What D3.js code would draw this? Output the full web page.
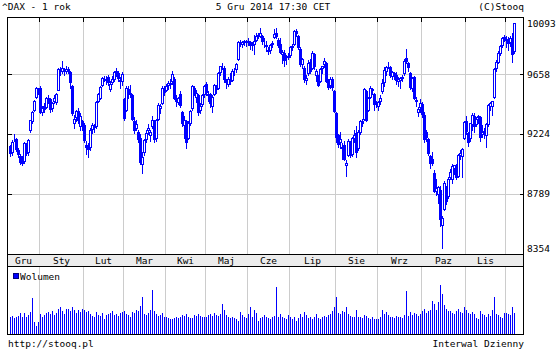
<!DOCTYPE html>
<html>
<head>
<meta charset="utf-8">
<script src="https://cdn.jsdelivr.net/npm/d3@7"></script>
<style>
  html, body { margin: 0; padding: 0; background: #fff; }
  svg { display: block; shape-rendering: crispEdges; }
  text { font-family: "DejaVu Sans Mono", monospace; font-size: 9.5px; fill: #000; }
</style>
</head>
<body>
<svg id="chart" width="560" height="350"></svg>
<script>
// --- 1. DATA ---
const monthLabels = ["Gru", "Sty", "Lut", "Mar", "Kwi", "Maj", "Cze", "Lip", "Sie", "Wrz", "Paz", "Lis", "Gru"];
// sessions per month in the window (Dec 2013 .. Dec 2014)
const monthDays = [15, 22, 20, 21, 20, 21, 21, 23, 21, 22, 22, 20, 5];
const priceTicks = [8354, 8789, 9224, 9658, 10093];

// [open, high, low, close]
const candles = [
  // gru 2013
  [9140,9150,9060,9085],[9090,9185,9070,9172],[9200,9230,9180,9201],[9195,9200,9100,9114],
  [9110,9125,9055,9077],[9060,9080,9000,9017],[9030,9060,8990,9006],[9020,9170,9010,9164],
  [9150,9160,9070,9085],[9090,9190,9070,9182],[9260,9340,9250,9336],[9330,9410,9320,9400],
  [9420,9495,9410,9489],[9520,9594,9510,9589],[9580,9590,9540,9552],
  // sty
  [9590,9600,9390,9400],[9400,9450,9380,9435],[9450,9470,9400,9428],[9440,9520,9430,9506],
  [9510,9530,9470,9497],[9500,9510,9400,9422],[9430,9480,9410,9473],[9490,9530,9470,9510],
  [9480,9550,9460,9540],[9570,9740,9570,9733],[9730,9750,9690,9717],[9720,9794,9700,9742],
  [9730,9745,9690,9715],[9720,9760,9700,9730],[9735,9750,9700,9720],[9710,9715,9590,9631],
  [9600,9610,9380,9392],[9320,9380,9280,9349],[9360,9420,9330,9406],[9410,9430,9320,9336],
  [9290,9390,9260,9374],[9330,9340,9260,9306],
  // lut
  [9300,9320,9170,9186],[9150,9180,9080,9128],[9140,9160,9050,9116],[9130,9280,9110,9265],
  [9270,9320,9240,9301],[9300,9310,9250,9285],[9290,9490,9280,9478],[9490,9550,9480,9540],
  [9510,9600,9500,9596],[9610,9670,9600,9663],[9660,9680,9640,9657],[9650,9680,9620,9660],
  [9670,9690,9610,9635],[9580,9640,9560,9618],[9630,9680,9620,9657],[9660,9720,9640,9709],
  [9720,9740,9680,9699],[9700,9720,9640,9661],[9650,9670,9590,9638],[9640,9710,9610,9692],
  // mar
  [9500,9510,9340,9358],[9420,9600,9410,9589],[9580,9600,9510,9542],[9550,9610,9520,9543],
  [9530,9540,9340,9351],[9330,9360,9240,9265],[9280,9340,9260,9307],[9250,9260,9170,9189],
  [9200,9230,9000,9017],[9000,9090,8930,9056],[9090,9190,9070,9181],[9190,9260,9170,9242],
  [9260,9310,9230,9277],[9220,9260,9180,9245],[9290,9370,9280,9343],[9330,9340,9170,9189],
  [9200,9350,9180,9338],[9350,9470,9340,9452],[9430,9460,9390,9450],[9470,9600,9460,9588],
  [9590,9600,9530,9556],
  // kwi
  [9570,9620,9560,9603],[9610,9640,9580,9623],[9620,9660,9590,9628],[9640,9720,9620,9695],
  [9660,9670,9500,9510],[9510,9530,9450,9490],[9480,9520,9460,9507],[9540,9560,9440,9455],
  [9400,9410,9290,9315],[9300,9370,9200,9339],[9330,9340,9120,9173],[9200,9330,9190,9317],
  [9320,9420,9300,9409],[9430,9610,9420,9600],[9590,9600,9530,9545],[9520,9570,9480,9549],
  [9530,9540,9380,9401],[9420,9470,9390,9446],[9460,9540,9450,9531],[9540,9610,9520,9603],
  // maj
  [9620,9630,9530,9556],[9540,9560,9490,9529],[9540,9550,9440,9467],[9450,9530,9400,9521],
  [9540,9620,9530,9607],[9600,9610,9550,9581],[9590,9710,9580,9703],[9710,9760,9690,9754],
  [9760,9780,9730,9755],[9740,9760,9630,9656],[9650,9660,9590,9630],[9620,9670,9600,9659],
  [9660,9700,9620,9639],[9650,9730,9640,9722],[9720,9740,9690,9721],[9730,9780,9710,9769],
  [9810,9950,9800,9940],[9945,9960,9910,9940],[9930,9950,9900,9939],[9940,9960,9920,9952],
  [9950,9960,9910,9943],
  // cze
  [9945,9970,9920,9950],[9940,9950,9890,9920],[9920,9940,9880,9926],[9930,10000,9850,9948],
  [9960,10010,9950,9987],[9995,10010,9970,9987],[9990,10050,9980,10008],[9990,10000,9930,9950],
  [9940,9970,9900,9939],[9920,9950,9870,9912],[9870,9900,9850,9883],[9880,9930,9860,9920],
  [9930,9950,9900,9937],[9980,10040,9970,10005],[10010,10050,9970,9987],[9960,9970,9900,9920],
  [9930,9970,9860,9868],[9850,9880,9780,9867],[9860,9880,9760,9805],[9820,9840,9770,9816],
  [9830,9860,9810,9833],
  // lip
  [9840,9910,9830,9902],[9910,9930,9880,9903],[9930,10033,9920,10029],[10030,10040,9990,10009],
  [9990,10000,9890,9906],[9890,9900,9760,9772],[9770,9820,9740,9808],[9740,9760,9630,9659],
  [9650,9690,9620,9666],[9700,9800,9690,9783],[9790,9810,9700,9719],[9740,9870,9730,9859],
  [9850,9860,9730,9753],[9690,9730,9640,9720],[9680,9690,9600,9612],[9640,9740,9630,9734],
  [9740,9760,9700,9753],[9770,9820,9750,9796],[9780,9790,9630,9644],[9640,9660,9580,9598],
  [9610,9670,9590,9653],[9660,9670,9570,9593],[9560,9570,9400,9407],
  // sie
  [9390,9400,9170,9210],[9220,9230,9130,9154],[9170,9250,9120,9189],[9120,9160,9040,9130],
  [9150,9180,9030,9038],[8990,9030,8903,9009],[9070,9190,9060,9180],[9170,9180,9050,9069],
  [9080,9210,9060,9199],[9200,9260,9170,9225],[9240,9290,9050,9092],[9120,9260,9110,9245],
  [9250,9340,9230,9334],[9330,9350,9290,9314],[9350,9590,9340,9580],[9560,9570,9330,9339],
  [9420,9520,9410,9510],[9520,9600,9510,9588],[9580,9590,9540,9569],[9540,9550,9420,9462],
  [9475,9490,9440,9470],
  // wrz
  [9450,9490,9420,9480],[9490,9530,9460,9507],[9560,9660,9550,9626],[9630,9750,9600,9724],
  [9720,9760,9690,9747],[9760,9790,9740,9758],[9750,9760,9670,9686],[9680,9720,9660,9710],
  [9700,9710,9660,9691],[9690,9710,9620,9651],[9640,9670,9600,9660],[9650,9670,9590,9661],
  [9670,9690,9640,9662],[9700,9810,9690,9799],[9820,9891,9780,9799],[9780,9790,9720,9749],
  [9700,9710,9580,9595],[9590,9670,9560,9661],[9670,9680,9500,9510],[9495,9520,9450,9490],
  [9400,9440,9370,9422],[9440,9500,9400,9474],
  // paz
  [9460,9480,9360,9382],[9380,9400,9170,9195],[9250,9260,9180,9209],[9190,9200,9070,9086],
  [9060,9070,8970,9005],[9040,9090,8990,9005],[8930,8950,8780,8788],[8790,8880,8760,8812],
  [8770,8830,8700,8825],[8800,8830,8520,8572],[8530,8600,8354,8582],[8650,8870,8640,8850],
  [8810,8830,8690,8717],[8750,8900,8740,8886],[8900,8960,8880,8940],[8880,9000,8850,8987],
  [8970,8990,8920,8988],[8990,9000,8880,8902],[8910,9080,8900,9068],[9070,9110,9040,9083],
  [9060,9120,8900,9114],[9200,9330,9190,9326],
  // lis
  [9330,9370,9230,9251],[9240,9250,9140,9166],[9200,9320,9180,9315],[9310,9390,9260,9378],
  [9370,9390,9250,9291],[9310,9360,9290,9351],[9360,9380,9320,9369],[9360,9370,9180,9210],
  [9230,9300,9210,9248],[9250,9280,9200,9252],[9220,9320,9130,9306],[9310,9460,9290,9456],
  [9450,9480,9420,9472],[9450,9490,9380,9483],[9520,9740,9510,9732],[9740,9800,9720,9785],
  [9790,9870,9780,9861],[9860,9920,9840,9915],[9920,9980,9900,9974],[9970,10000,9950,9980],
  // gru 2014
  [9960,9990,9900,9963],[9950,9980,9880,9935],[9940,9990,9910,9972],[9970,10010,9790,9851],
  [9870,10093,9860,10087]
];

const volume = [
  26,27,24,26,27,31,25,32,26,28,33,54,18,12,18,
  30,26,28,31,33,30,35,29,32,37,40,34,30,38,37,34,41,36,31,36,33,38,
  36,33,35,30,27,26,33,29,27,31,23,28,30,31,34,28,30,27,31,33,
  35,30,28,26,33,31,36,34,42,55,30,29,31,36,66,35,30,27,29,31,26,
  25,24,23,22,24,25,24,25,28,27,30,26,24,24,28,27,30,27,25,26,
  26,28,30,27,32,29,27,30,45,36,28,25,24,26,24,22,20,33,28,26,24,
  30,40,26,36,32,20,24,26,28,25,24,23,26,27,70,25,30,26,24,22,28,
  25,22,26,20,24,30,26,33,28,24,26,22,25,30,24,22,25,27,26,28,30,34,40,
  55,32,30,34,33,40,30,27,26,25,36,26,25,24,28,27,24,22,25,23,22,
  22,26,36,30,33,28,25,26,24,27,25,26,24,28,64,27,33,29,32,30,27,30,
  34,38,32,35,36,50,45,36,48,73,60,44,38,35,34,32,30,34,37,33,31,40,
  36,32,30,33,30,24,22,34,30,28,26,30,27,36,55,30,28,26,24,32,
  32,30,28,40,31
];

// --- 2. SVG AND SCALES ---
const svg = d3.select("#chart");
const blue = "#0000ff";
const grid = "#cccccc";

const plotL = 7.5, plotR = 523.5, plotT = 17.5, plotB = 254.5;
const bandB = 266.5, volB = 334.5;

const x = d3.scaleLinear()
  .domain([0, candles.length - 1])
  .range([10.5, 10.5 + 2 * (candles.length - 1)]);

// labels sit on an evenly split axis, prices are drawn with a small inset
const yAxis = d3.scaleLinear().domain(d3.extent(priceTicks)).range([254, 14]);
const yPrice = d3.scaleLinear().domain(d3.extent(priceTicks)).range([247.5, 22.5]);
const yVol = d3.scaleLinear().domain([0, 100]).range([334, 267]);

// month boundaries
const starts = [0, ...d3.cumsum(monthDays)].slice(0, monthDays.length);
const lineX = starts.slice(1).map(s => x(s) - 1);

// --- 3. GRID ---
const g = svg.append("g");

g.selectAll(".hgrid")
  .data(priceTicks.slice(1, -1))
  .join("line")
  .attr("x1", plotL).attr("x2", plotR)
  .attr("y1", d => Math.round(yAxis(d)) + 0.5)
  .attr("y2", d => Math.round(yAxis(d)) + 0.5)
  .attr("stroke", grid);

g.selectAll(".vgrid")
  .data(lineX)
  .join("line")
  .attr("x1", d => d).attr("x2", d => d)
  .attr("y1", plotT).attr("y2", plotB)
  .attr("stroke", grid);

g.selectAll(".vgrid2")
  .data(lineX)
  .join("line")
  .attr("x1", d => d).attr("x2", d => d)
  .attr("y1", bandB).attr("y2", volB)
  .attr("stroke", grid);

// month band
svg.append("rect")
  .attr("x", plotL).attr("y", plotB)
  .attr("width", plotR - plotL).attr("height", bandB - plotB)
  .attr("fill", "#ececec");

// --- 4. CANDLES ---
const candle = svg.append("g")
  .selectAll("g")
  .data(candles)
  .join("g");

candle.append("line")
  .attr("x1", (d, i) => x(i)).attr("x2", (d, i) => x(i))
  .attr("y1", d => Math.round(yPrice(d[1])))
  .attr("y2", d => Math.round(yPrice(d[2])) + 1)
  .attr("stroke", blue);

candle.append("rect")
  .attr("x", (d, i) => x(i) - 1)
  .attr("width", 2)
  .attr("y", d => Math.round(yPrice(Math.max(d[0], d[3]))) + 0.5)
  .attr("height", d => Math.round(yPrice(Math.min(d[0], d[3]))) - Math.round(yPrice(Math.max(d[0], d[3]))))
  .attr("fill", d => d[3] >= d[0] ? "#fff" : blue)
  .attr("stroke", blue);

// --- 5. VOLUME ---
svg.append("g")
  .selectAll("rect")
  .data(volume)
  .join("rect")
  .attr("x", (d, i) => x(i) - 0.5)
  .attr("width", 1)
  .attr("y", d => Math.round(yVol(d)))
  .attr("height", d => 334 - Math.round(yVol(d)))
  .attr("fill", blue);

svg.append("rect")
  .attr("x", 13.5).attr("y", 273.5).attr("width", 5).attr("height", 5)
  .attr("fill", blue).attr("stroke", "#000080");
svg.append("text").attr("x", 20).attr("y", 279.5).text("Wolumen");

// --- 6. FRAMES AND TICKS ---
const frame = svg.append("g").attr("fill", "none").attr("stroke", "#000");
frame.append("rect").attr("x", plotL).attr("y", plotT).attr("width", plotR - plotL).attr("height", plotB - plotT);
frame.append("rect").attr("x", plotL).attr("y", plotB).attr("width", plotR - plotL).attr("height", bandB - plotB);
frame.append("rect").attr("x", plotL).attr("y", bandB).attr("width", plotR - plotL).attr("height", volB - bandB);

frame.selectAll(".mtick")
  .data(lineX)
  .join("line")
  .attr("x1", d => d).attr("x2", d => d)
  .attr("y1", plotT).attr("y2", plotT + 4);

priceTicks.slice(1, -1).forEach(v => {
  const yy = Math.round(yAxis(v)) + 0.5;
  frame.append("line").attr("x1", plotL).attr("x2", plotL + 4).attr("y1", yy).attr("y2", yy);
  frame.append("line").attr("x1", plotR - 4).attr("x2", plotR).attr("y1", yy).attr("y2", yy);
});

// --- 7. TEXT ---
svg.append("g")
  .selectAll("text")
  .data(priceTicks)
  .join("text")
  .attr("x", 527)
  .attr("y", d => Math.max(23, Math.min(248, yAxis(d))) + 3.5)
  .text(d => d);

const bounds = [plotL, ...lineX];
svg.append("g")
  .selectAll("text")
  .data(monthLabels.slice(0, bounds.length - 1))
  .join("text")
  .attr("text-anchor", "middle")
  .attr("x", (d, i) => (bounds[i] + bounds[i + 1]) / 2)
  .attr("y", 264)
  .text(d => d);

svg.append("text").attr("x", 2).attr("y", 10).text("^DAX - 1 rok");
svg.append("text").attr("x", 273).attr("y", 10).attr("text-anchor", "middle").text("5 Gru 2014 17:30 CET");
svg.append("text").attr("x", 524).attr("y", 10).attr("text-anchor", "end").text("(C)Stooq");
svg.append("text").attr("x", 8).attr("y", 347).text("http://stooq.pl");
svg.append("text").attr("x", 524).attr("y", 347).attr("text-anchor", "end").text("Interwal Dzienny");
</script>
</body>
</html>
